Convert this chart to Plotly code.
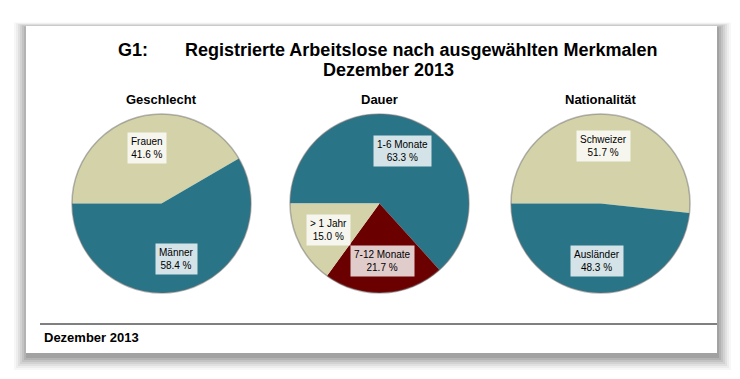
import math
import plotly.graph_objects as go

W, H = 740, 379

# ---- data ----
groups = ["Geschlecht", "Dauer", "Nationalität"]
geschlecht_labels = ["Frauen", "Männer"]
geschlecht_values = [41.6, 58.4]
dauer_labels = ["1-6 Monate", "7-12 Monate", "> 1 Jahr"]
dauer_values = [63.3, 21.7, 15.0]
nat_labels = ["Schweizer", "Ausländer"]
nat_values = [51.7, 48.3]

title_prefix = "G1:"
title_main = "Registrierte Arbeitslose nach ausgewählten Merkmalen"
title_sub = "Dezember 2013"
footer = "Dezember 2013"

TEAL = "#2a7487"
KHAKI = "#d3d2a9"
DARKRED = "#6b0000"
colors_g = [KHAKI, TEAL]
colors_d = [TEAL, DARKRED, KHAKI]
colors_n = [KHAKI, TEAL]


def px(x):
    return x / W


def py(y):
    return 1 - y / H


FONT = "Liberation Sans, Arial, sans-serif"

# layout geometry (pixels)
centers_x = [161.5, 379.5, 600.5]
center_y = 203.5
R = 89.5

fig = go.Figure()
annotations = []
shapes = []

# card shadow
for i, a in enumerate([0.03, 0.04, 0.05, 0.06, 0.07, 0.08, 0.09]):
    g = 14 - 2 * i
    shapes.append(dict(type="rect", xref="paper", yref="paper", layer="below",
                       x0=px(26 - g + 2), x1=px(717 + g), y0=py(353 + g + 3), y1=py(26 - g * 0.4 + 2),
                       line=dict(width=0), fillcolor=f"rgba(0,0,0,{a})"))
shapes.append(dict(type="rect", xref="paper", yref="paper", layer="below",
                   x0=px(26), x1=px(717), y0=py(353), y1=py(26),
                   line=dict(width=0), fillcolor="white"))
# footer line
shapes.append(dict(type="line", xref="paper", yref="paper",
                   x0=px(40), x1=px(717), y0=py(324), y1=py(324),
                   line=dict(color="black", width=1)))

pies = [
    (geschlecht_labels, geschlecht_values, colors_g),
    (dauer_labels, dauer_values, colors_d),
    (nat_labels, nat_values, colors_n),
]


def ann(text, x, y, size, xanchor="center", **kw):
    d = dict(text=text, x=px(x), y=py(y), xref="paper", yref="paper",
             xanchor=xanchor, yanchor="middle", showarrow=False,
             font=dict(family=FONT, size=size, color="black"))
    d.update(kw)
    return d


label_r = 0.64
for k, (labs, vals, cols) in enumerate(pies):
    cx = centers_x[k]
    fig.add_trace(go.Pie(
        labels=labs, values=vals, sort=False, direction="clockwise", rotation=-90,
        marker=dict(colors=cols, line=dict(width=0)),
        textinfo="none", hoverinfo="label+percent", showlegend=False,
        domain=dict(x=[px(cx - R), px(cx + R)], y=[py(center_y + R), py(center_y - R)]),
    ))
    # outline
    shapes.append(dict(type="circle", xref="paper", yref="paper", layer="above",
                       x0=px(cx - R), x1=px(cx + R), y0=py(center_y + R), y1=py(center_y - R),
                       line=dict(color="rgba(110,110,110,0.5)", width=1.5)))
    # subtitle
    annotations.append(ann(f"<b>{groups[k]}</b>", cx, 99, 13))
    # slice labels
    total = sum(vals)
    start = 180.0
    for lab, v in zip(labs, vals):
        sweep = v / total * 360
        mid = math.radians(start - sweep / 2)
        start -= sweep
        lx = cx + label_r * R * math.cos(mid)
        ly = center_y - label_r * R * math.sin(mid)
        annotations.append(ann(f"{lab}<br>{v:.1f} %", lx, ly, 10, align="center",
                               bgcolor="rgba(255,255,255,0.8)", borderpad=3))

annotations.append(ann(f"<b>{title_prefix}</b>", 116, 50, 18, xanchor="left"))
annotations.append(ann(f"<b>{title_main}</b>", 183, 50, 18, xanchor="left"))
annotations.append(ann(f"<b>{title_sub}</b>", 388.5, 70, 18))
annotations.append(ann(f"<b>{footer}</b>", 42, 337, 13, xanchor="left"))

fig.update_layout(
    width=W, height=H, margin=dict(l=0, r=0, t=0, b=0),
    paper_bgcolor="white", plot_bgcolor="white",
    annotations=annotations, shapes=shapes,
)

fig.write_html("out.html", config={"displayModeBar": False},
               post_script="document.body.style.margin='0';document.body.style.overflow='hidden';")
